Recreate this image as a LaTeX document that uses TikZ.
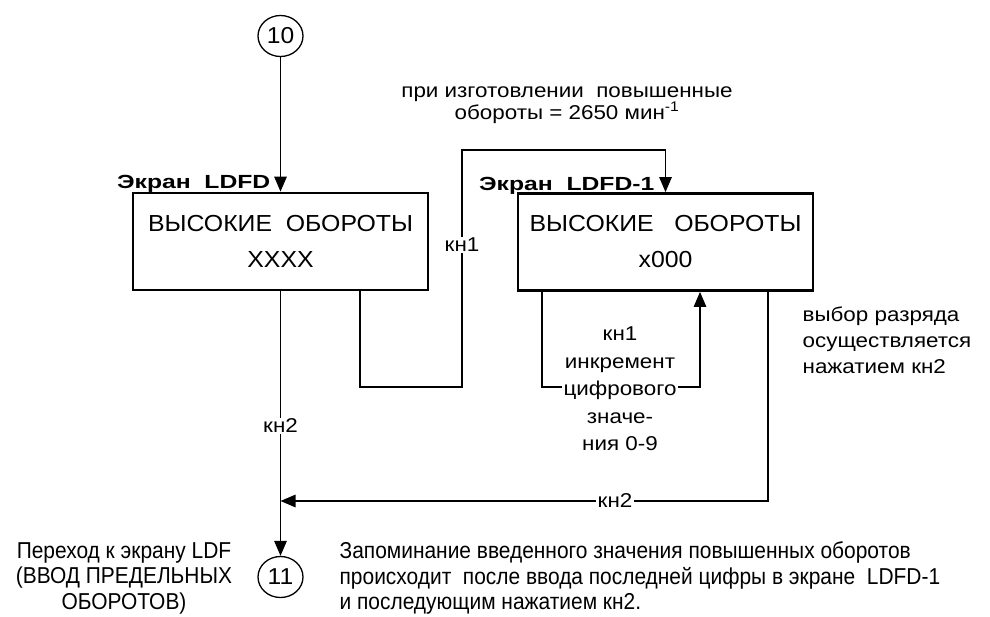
\documentclass[tikz,border=0pt]{standalone}
\usepackage{fontspec}
\setmainfont{Liberation Sans}[FakeStretch=1.12]
\newfontfamily\headfont{Liberation Sans}[FakeStretch=1.3]
\newfontfamily\boxfont{Liberation Sans}[FakeStretch=1.07]
\newfontfamily\narrowfont{Liberation Sans}[FakeStretch=0.91]
\usetikzlibrary{arrows.meta,shapes.geometric}

\begin{document}
\begin{tikzpicture}[x=1pt,y=-1pt,line width=1.3pt,font=\fontsize{20}{26}\selectfont,
  screen/.style={draw,line width=2.8pt,minimum width=295pt,minimum height=97pt,inner sep=0pt,align=center,font=\boxfont\fontsize{23.2}{36}\selectfont},
  ring/.style={draw,ellipse,minimum width=45pt,minimum height=41pt,inner sep=0pt,font=\boxfont\fontsize{23}{24}\selectfont},
  head/.style={anchor=base east,inner sep=0pt,font=\headfont\bfseries\fontsize{19}{22}\selectfont},
  tag/.style={fill=white,inner sep=1.5pt},
  foot/.style={inner sep=0pt,font=\narrowfont\fontsize{23}{25.5}\selectfont},
  >={Triangle[length=15pt,width=12.5pt]}]
\useasboundingbox (0,0) rectangle (990,616);
\node[ring] (c10) at (280.5,36) {10};
\node[screen] (b1) at (280.5,241.5) {ВЫСОКИЕ\ \ ОБОРОТЫ\\XXXX};
\node[screen] (b2) at (665.5,242) {ВЫСОКИЕ\ \ \ ОБОРОТЫ\\x000};
\node[ring] (c11) at (280.5,577) {11};
\node[head] (h1) at (271,188) {Экран\ \ LDFD};
\node[head] (h2) at (655,190) {Экран\ \ LDFD-1};
\node[align=center,font=\fontsize{20}{21.5}\selectfont] (note) at (567,105) {при изготовлении\ \ повышенные\\обороты = 2650 мин\textsuperscript{-1}};
\coordinate (p1) at (360,387);
\coordinate (p2) at (462,150);
\coordinate (q1) at (542,387);
\coordinate (q2) at (700,387);
\coordinate (r1) at (768,501);
\draw[->] (c10) -- (b1);
\draw[->] (p1 |- b1.south) -- (p1) -| (p2) -| (b2.north);
\draw[->] (q1 |- b2.south) -- (q1) -- (q2) -- (q2 |- b2.south);
\draw[->] (b1.south) -- (c11.north);
\draw[->] (r1 |- b2.south) -- (r1) -- (r1 -| b1.south);
\node[tag] (k1) at (462,245) {кн1};
\node[tag,align=center,font=\fontsize{20}{27.5}\selectfont] (inc) at (620,389) {кн1\\инкремент\\цифрового\\значе-\\ния 0-9};
\node[tag] (k2) at (280.5,426) {кн2};
\node[tag] (k3) at (615,501) {кн2};
\node[anchor=north west,align=left,inner sep=0pt] (sel) at (802,306) {выбор разряда\\осуществляется\\нажатием кн2};
\node[foot,align=center] (go) at (124,578) {Переход к экрану LDF\\(ВВОД ПРЕДЕЛЬНЫХ\\ОБОРОТОВ)};
\node[foot,align=left,anchor=west] (mem) at (339,578) {Запоминание введенного значения повышенных оборотов\\происходит\ \ после ввода последней цифры в экране\ \ LDFD-1\\и последующим нажатием кн2.};
\end{tikzpicture}
\end{document}
